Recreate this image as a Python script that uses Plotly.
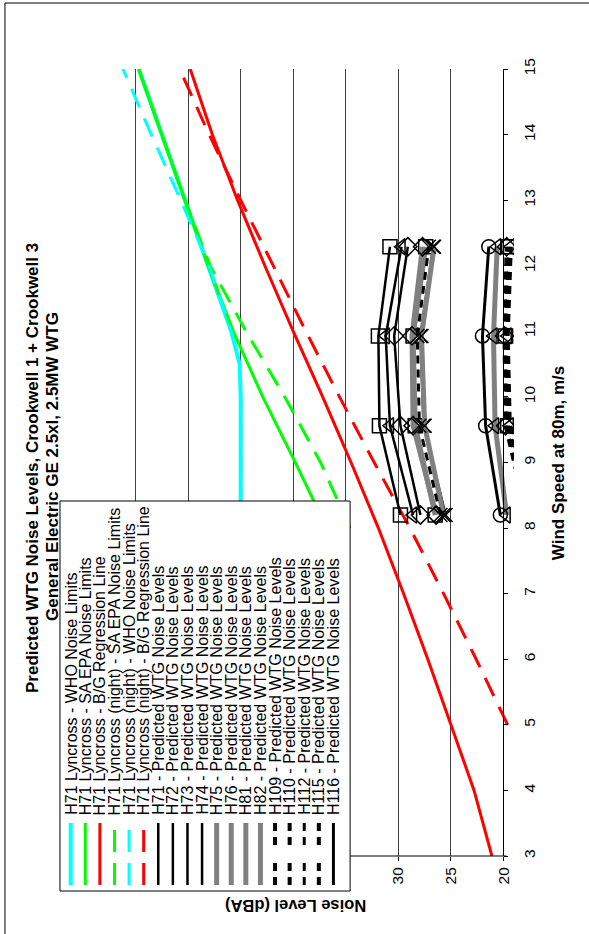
import plotly.graph_objects as go

# ---------------- data ----------------
# wind speed at 80 m hub height (m/s)
wind_bg = [3, 4, 5, 6, 7, 8, 9, 10, 11, 12, 13, 14, 15]
bg_day = [21.1, 22.8, 25.0, 27.2, 29.5, 31.9, 34.5, 37.2, 40.0, 42.7, 45.3, 47.7, 49.8]

wind_bg_night = [5, 6, 7, 8, 9, 10, 11, 12, 13, 14, 15]
bg_night = [19.6, 22.6, 25.7, 28.9, 32.3, 35.6, 38.8, 41.9, 45.0, 48.0, 50.8]

wind_sa = [8, 9, 10, 11, 12, 13, 14, 15]
sa_day = [36.8, 39.8, 42.9, 45.7, 48.1, 50.3, 52.5, 54.7]
sa_night = [34.6, 37.4, 40.8, 44.5, 47.9, 50.3, 52.5, 54.7]

wind_who = [3, 4, 5, 6, 7, 8, 9, 10, 10.5, 11, 12, 13, 14, 15]
who_day = [45.0, 45.0, 45.0, 45.0, 45.0, 45.0, 45.0, 45.0, 45.1, 45.9, 48.1, 50.3, 52.5, 54.7]
who_night = [45.0, 45.0, 45.0, 45.0, 45.0, 45.0, 45.0, 45.0, 45.1, 45.9, 48.0, 50.7, 53.5, 56.2]

wind_pred = [8.20, 9.56, 10.93, 12.29]
pred = {
    "H71": [29.8, 31.8, 31.9, 30.8],
    "H72": [28.6, 30.8, 31.2, 29.7],
    "H73": [25.5, 27.6, 27.9, 26.7],
    "H74": [27.9, 29.8, 30.4, 29.1],
    "H75": [26.5, 28.4, 28.6, 27.4],
    "H76": [19.7, 20.8, 20.95, 20.6],
    "H81": [25.7, 27.5, 27.8, 26.6],
    "H82": [26.4, 28.6, 28.7, 27.7],
    "H109": [17.5, 19.6, 19.8, 19.5],
    "H110": [17.2, 19.4, 19.6, 19.3],
    "H112": [26.0, 28.0, 28.2, 27.1],
    "H115": [17.8, 19.8, 19.9, 19.7],
    "H116": [20.3, 21.7, 22.0, 21.4],
}

noise_ticks = [20, 25, 30, 35, 40, 45, 50, 55, 60]
noise_labels = ["20", "25", "30", "", "", "", "", "", ""]
wind_ticks = list(range(3, 16))

legend_labels = [
    "H71 Lyncross - WHO Noise Limits",
    "H71 Lyncross - SA EPA Noise Limits",
    "H71 Lyncross - B/G Regression Line",
    "H71 Lyncross (night) - SA EPA Noise Limits",
    "H71 Lyncross (night) - WHO Noise Limits",
    "H71 Lyncross (night) - B/G Regression Line",
] + [f"{k} - Predicted WTG Noise Levels" for k in pred]

# ---------------- styles ----------------
CYAN, GREEN, RED, GREY, BLACK = "#00FFFF", "#00FF00", "#FF0000", "#808080", "#000000"
LONG_DASH = "20px,12px"
SHORT_DASH = "8px,6px"

limit_styles = [
    dict(color=CYAN, width=4, dash="solid"),
    dict(color=GREEN, width=3, dash="solid"),
    dict(color=RED, width=3, dash="solid"),
    dict(color=GREEN, width=3, dash=LONG_DASH),
    dict(color=CYAN, width=3, dash=LONG_DASH),
    dict(color=RED, width=3, dash=LONG_DASH),
]
pred_styles = {
    "H71": (dict(color=BLACK, width=2.5), "square-open"),
    "H72": (dict(color=BLACK, width=2.5), "triangle-left-open"),
    "H73": (dict(color=BLACK, width=2.5), "x-thin-open"),
    "H74": (dict(color=BLACK, width=2.5), "diamond-open"),
    "H75": (dict(color=GREY, width=5), "square-open"),
    "H76": (dict(color=GREY, width=5), "triangle-left-open"),
    "H81": (dict(color=GREY, width=5), "x-thin-open"),
    "H82": (dict(color=GREY, width=5), "diamond-open"),
    "H109": (dict(color=BLACK, width=4, dash=SHORT_DASH), "square-open"),
    "H110": (dict(color=BLACK, width=4, dash=SHORT_DASH), "triangle-left-open"),
    "H112": (dict(color=BLACK, width=3, dash=SHORT_DASH), "x-thin-open"),
    "H115": (dict(color=BLACK, width=4, dash=SHORT_DASH), "diamond-open"),
    "H116": (dict(color=BLACK, width=3), "circle-open"),
}

# page geometry (pixels); the plot area runs a little past the 20 dBA axis
W, H = 589, 934
X_AXIS_20 = 503.3          # pixel position of the wind-speed axis (20 dBA)
PX_PER_DB = 10.515
NOISE_MIN = 19.0
ML, MT, MB = 83, 69, 78
MR = W - (X_AXIS_20 + (20 - NOISE_MIN) * PX_PER_DB)
PW, PH = W - ML - MR, H - MT - MB
FONT = "Liberation Sans, Arial, sans-serif"


def px(x):
    return (x - ML) / PW


def py(y):
    return (H - MB - y) / PH


fig = go.Figure()

limit_series = [
    (who_day, wind_who), (sa_day, wind_sa), (bg_day, wind_bg),
    (sa_night, wind_sa), (who_night, wind_who), (bg_night, wind_bg_night),
]
for (xs, ys), st in zip(limit_series, limit_styles):
    fig.add_trace(go.Scatter(x=xs, y=ys, mode="lines", line=st, showlegend=False))

for name, vals in pred.items():
    line, sym = pred_styles[name]
    fig.add_trace(go.Scatter(
        x=vals, y=wind_pred, mode="lines+markers", line=line,
        marker=dict(symbol=sym, size=14, color=BLACK, line=dict(color=BLACK, width=1.5)),
        showlegend=False, cliponaxis=True,
    ))

fig.update_xaxes(
    range=[60, NOISE_MIN], tickvals=noise_ticks, ticktext=noise_labels, tickangle=-90,
    showgrid=True, gridcolor="#404040", gridwidth=1, zeroline=False,
    ticks="outside", ticklen=4, tickcolor=BLACK, showline=False,
    tickfont=dict(family=FONT, size=15.5, color=BLACK),
)
fig.update_yaxes(
    range=[3, 15], tickvals=wind_ticks, side="right", anchor="free", position=px(X_AXIS_20),
    tickangle=-90, showgrid=False, zeroline=False, ticks="outside", ticklen=4, tickcolor=BLACK,
    showline=True, linecolor=BLACK, ticklabelstandoff=8,
    tickfont=dict(family=FONT, size=15.5, color=BLACK),
)

shapes = []
annotations = []

# noise axis line along the bottom of the plot
shapes.append(dict(type="line", xref="paper", yref="paper", x0=0, x1=px(X_AXIS_20 + 3), y0=0, y1=0,
                   line=dict(color=BLACK, width=1), layer="above"))

# outer chart border (left and top edges fall on the page)
shapes.append(dict(type="rect", xref="paper", yref="paper", x0=px(5), x1=px(620), y0=py(3), y1=py(960),
                   line=dict(color=BLACK, width=1), fillcolor="rgba(0,0,0,0)", layer="above"))

# legend box
shapes.append(dict(type="rect", xref="paper", yref="paper", x0=px(60), x1=px(350), y0=py(501), y1=py(891),
                   line=dict(color=BLACK, width=1), fillcolor="white", layer="above"))

col0, dcol = 70.7, 14.59
text_base = 817
sym_y = 854
all_styles = limit_styles + [pred_styles[k][0] for k in pred]
all_syms = [None] * 6 + [pred_styles[k][1] for k in pred]
for i, (lab, st) in enumerate(zip(legend_labels, all_styles)):
    cx = col0 + i * dcol
    dash = st.get("dash", "solid")
    if dash == LONG_DASH:
        segs = [(830, 852), (863, 885)]
    elif dash == SHORT_DASH:
        segs = [(823, 831), (837, 845), (863, 871), (877, 885)]
    else:
        segs = [(823, 885)]
    for a, b in segs:
        shapes.append(dict(type="line", xref="paper", yref="paper", x0=px(cx), x1=px(cx), y0=py(a), y1=py(b),
                           line=dict(color=st["color"], width=st["width"]), layer="above"))
    annotations.append(dict(text=lab, xref="paper", yref="paper", x=px(cx), y=py(text_base),
                            xanchor="center", yanchor="bottom", textangle=-90, showarrow=False,
                            font=dict(family=FONT, size=16, color=BLACK)))

# legend symbols drawn on an overlay axis that spans the plot in pixel units
sym_x = [col0 + i * dcol for i in range(len(all_syms)) if all_syms[i]]
sym_s = [s for s in all_syms if s]
fig.add_trace(go.Scatter(
    x=sym_x, y=[sym_y] * len(sym_x), mode="markers", xaxis="x2", yaxis="y2",
    marker=dict(symbol=sym_s, size=11, color=BLACK, line=dict(color=BLACK, width=1.5)),
    showlegend=False, cliponaxis=False,
))
fig.update_layout(
    xaxis2=dict(range=[ML, W - MR], domain=[0, 1], overlaying="x", visible=False, fixedrange=True),
    yaxis2=dict(range=[H - MB, MT], domain=[0, 1], overlaying="y", visible=False, fixedrange=True),
)


def label(text, x, y, angle, size):
    return dict(text=text, xref="paper", yref="paper", x=px(x), y=py(y), xanchor="center", yanchor="middle",
                textangle=angle, showarrow=False, font=dict(family=FONT, size=size, color=BLACK))


annotations += [
    label("<b>Predicted WTG Noise Levels, Crookwell 1 + Crookwell 3</b>", 32, 468, -90, 17),
    label("<b>General Electric GE 2.5xl, 2.5MW WTG</b>", 52, 466, -90, 17),
    label("<b>Wind Speed at 80m, m/s</b>", 558, 463, -90, 17),
    label("<b>Noise Level (dBA)</b>", 296, 906, 180, 16.5),
]

fig.update_layout(
    width=W, height=H, margin=dict(l=ML, r=MR, t=MT, b=MB),
    paper_bgcolor="white", plot_bgcolor="white",
    shapes=shapes, annotations=annotations, showlegend=False,
)

fig.write_html("out.html")
